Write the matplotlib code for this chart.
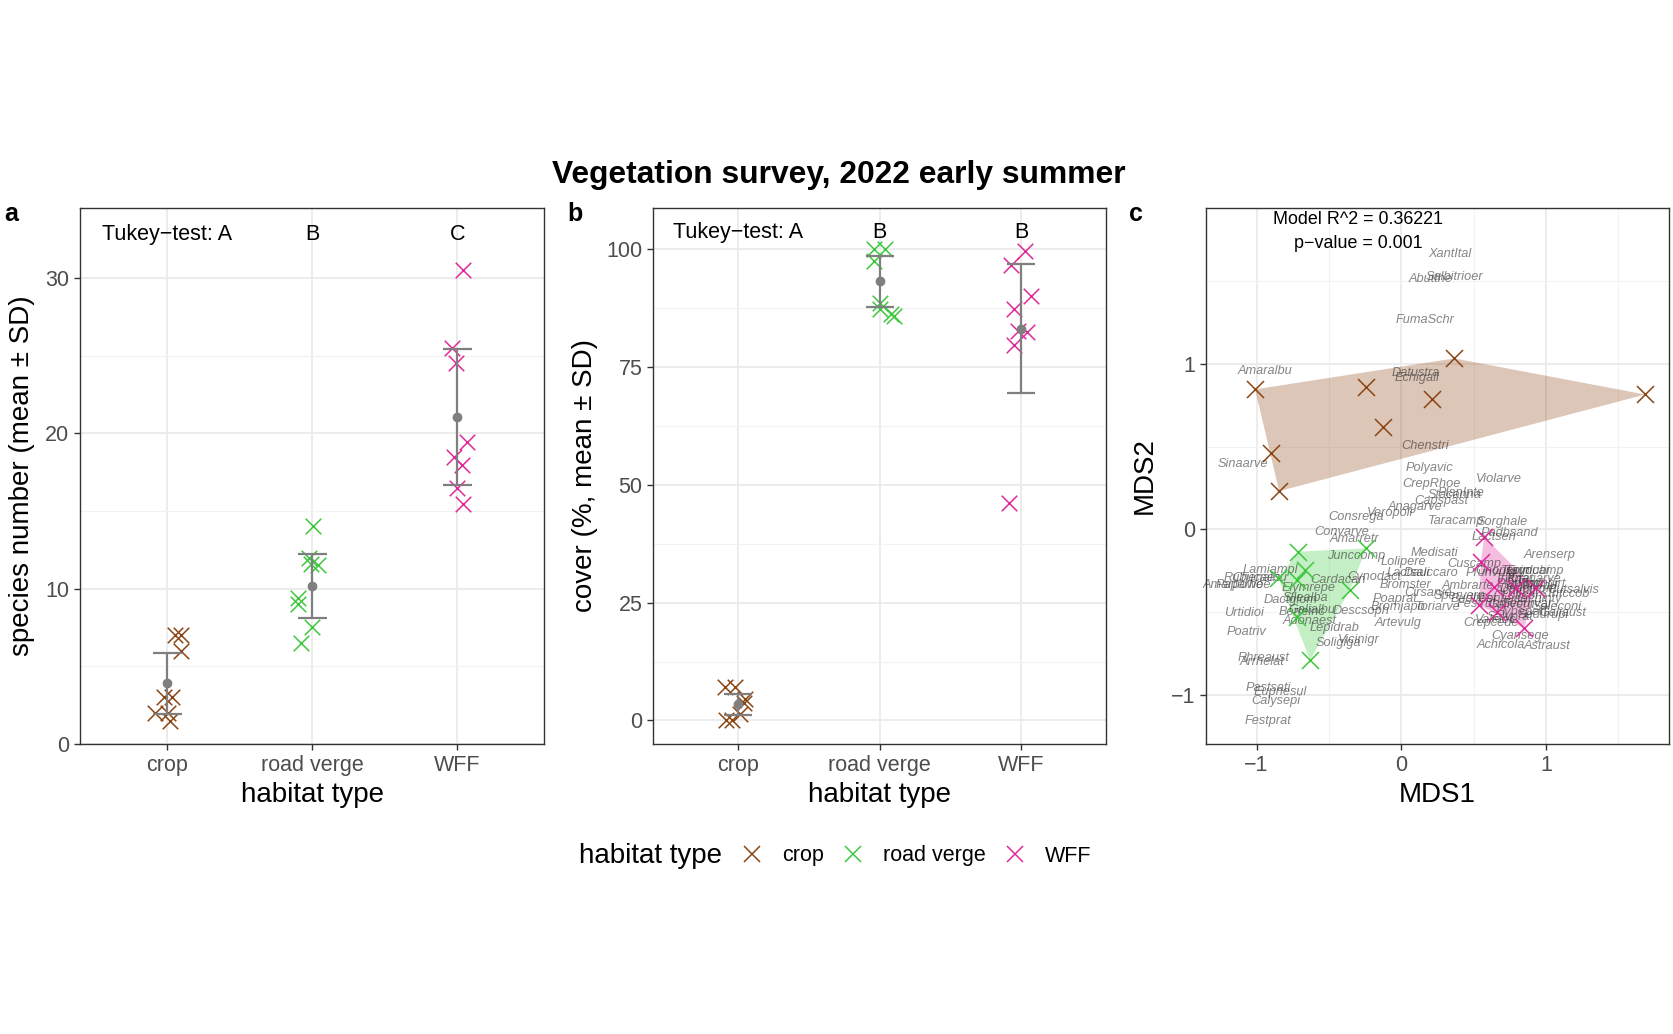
import numpy as np
import matplotlib
matplotlib.use("Agg")
import matplotlib.pyplot as plt
from matplotlib.lines import Line2D

plt.rcParams['font.family'] = ['Liberation Sans', 'DejaVu Sans']

habitats = ["crop", "road verge", "WFF"]
colours = ["#8B4513", "#3CC83C", "#E0289A"]
tukey_a = ["Tukey\u2212test: A", "B", "C"]
tukey_b = ["Tukey\u2212test: A", "B", "B"]

# panel a: species number per plot
species_n = [
    [7, 7, 6, 3, 3, 2, 2, 1.5],
    [14.0, 12.0, 11.5, 11.6, 9.4, 9.0, 7.5, 6.5],
    [30.5, 25.5, 24.5, 19.45, 18.5, 17.96, 16.46, 15.47],
]
jit_a = [
    [0.057, 0.096, 0.096, -0.023, 0.034, -0.08, 0.005, 0.023],
    [0.007, -0.02, 0.041, -0.01, -0.096, -0.1, -0.005, -0.08],
    [0.041, -0.039, -0.009, 0.069, -0.021, 0.034, -0.005, 0.041],
]
mean_a = [3.91, 10.18, 21.07]
sd_a = [1.96, 2.08, 4.37]

# panel b: vegetation cover
cover = [
    [7.0, 7.0, 4.5, 3.8, 0.2, 0.2, 1.3],
    [100.0, 100.2, 97.6, 88.6, 87.3, 86.2, 85.8],
    [99.6, 96.6, 90.1, 87.3, 82.6, 82.4, 79.8, 46.2],
]
jit_b = [
    [-0.096, -0.025, 0.05, 0.04, -0.088, -0.045, 0.013],
    [-0.043, 0.038, -0.043, 0.003, 0.003, 0.083, 0.1],
    [0.03, -0.071, 0.068, -0.053, -0.02, 0.038, -0.053, -0.088],
]
mean_b = [3.41, 93.2, 83.2]
sd_b = [2.3, 5.5, 13.75]

# panel c: NMDS site scores
mds1 = [
    [1.686, 0.367, -1.01, -0.245, 0.211, -0.126, -0.902, -0.844],
    [-0.711, -0.241, -0.665, -0.723, -0.849, -0.356, -0.723, -0.631],
    [0.573, 0.551, 0.642, 0.791, 0.929, 0.539, 0.659, 0.849],
]
mds2 = [
    [0.815, 1.033, 0.846, 0.858, 0.787, 0.62, 0.463, 0.231],
    [-0.135, -0.115, -0.246, -0.306, -0.296, -0.367, -0.528, -0.79],
    [-0.045, -0.196, -0.347, -0.357, -0.357, -0.457, -0.498, -0.598],
]

# species scores
sp_names = ["XantItal", "Abutthe", "Salbitrioer", "FumaSchr", "Amaralbu", "Datustra",
            "Echigall", "Chenstri", "Sinaarve", "Polyavic", "CrepRhoe", "Violarve",
            "PlanInte", "Stacanna", "Capspast", "Anagarve", "Veropoli", "Consrega",
            "Taracamp", "Sorghale", "Convarve", "Amarretr", "Lactseri", "Padbsand",
            "Junccomp", "Medisati", "Arenserp", "Lolipere", "Lactsali", "Dauccaro",
            "Cuscamp", "Cardacan", "Cynodact", "Elymrepe", "Bromster", "Ambrarte",
            "Rubucaes", "Lamiampl", "Amarpowe", "Paparhoe", "Chenalbu", "Dactglom",
            "Silealba", "Cirsarve", "Poaprat", "Bromjapo", "Toriarve", "Urtidioi",
            "Galialbu", "Berteinc", "Descsoph", "Adonaest", "Lepidrab", "Artevulg",
            "Poatriv", "Soligiga", "Vicinigr", "Rhreaust", "Arrhelat", "Pastsati",
            "Euphesul", "Calysepi", "Festprat", "Crepcede", "Valeloc", "Cyansege",
            "Achicola", "Astraust", "Cutsalvis", "Trifccob", "Seleconi", "Galiaust",
            "Sedurupi", "Prunvulg", "Spervern", "Budlfest", "Festrubr", "Trifprat",
            "Plantlan", "Medilupu", "Achimill", "Loticorn", "Daucglom", "Knauarve",
            "Centjace", "Galiveru", "Hypeperf", "Securvar", "Salvprat", "Eryncamp",
            "Tragdubi", "Ononspin", "Cichinty", "Rudbhirt"]
sp_x = [0.333, 0.206, 0.37, 0.165, -0.941, 0.103,
        0.11, 0.165, -1.097, 0.195, 0.206, 0.672,
        0.413, 0.367, 0.275, 0.092, -0.08, -0.31,
        0.379, 0.7, -0.413, -0.321, 0.642, 0.746,
        -0.31, 0.229, 1.028, 0.018, 0.046, 0.206,
        0.505, -0.436, -0.184, -0.642, 0.03, 0.459,
        -1.032, -0.906, -1.159, -1.09, -0.98, -0.768,
        -0.665, 0.184, -0.046, -0.023, 0.252, -1.09,
        -0.619, -0.688, -0.275, -0.631, -0.459, -0.023,
        -1.067, -0.436, -0.294, -0.952, -0.964, -0.922,
        -0.837, -0.867, -0.922, 0.619, 0.65, 0.819,
        0.688, 1.009, 1.19, 1.15, 1.078, 1.12,
        0.98, 0.62, 0.4, 0.5, 0.55, 0.78,
        0.82, 0.9, 0.8, 0.85, 0.88, 0.92,
        0.7, 0.76, 0.83, 0.87, 0.75, 0.93,
        0.86, 0.7, 0.95, 0.97]
sp_y = [1.662, 1.513, 1.527, 1.265, 0.957, 0.947,
        0.912, 0.504, 0.393, 0.369, 0.272, 0.304,
        0.218, 0.207, 0.171, 0.137, 0.1, 0.073,
        0.052, 0.046, -0.014, -0.058, -0.044, -0.02,
        -0.159, -0.145, -0.155, -0.195, -0.266, -0.266,
        -0.209, -0.306, -0.29, -0.356, -0.336, -0.342,
        -0.296, -0.246, -0.336, -0.336, -0.296, -0.427,
        -0.417, -0.387, -0.423, -0.467, -0.467, -0.508,
        -0.487, -0.497, -0.491, -0.552, -0.598, -0.568,
        -0.618, -0.685, -0.669, -0.779, -0.804, -0.961,
        -0.981, -1.035, -1.156, -0.568, -0.545, -0.642,
        -0.699, -0.703, -0.367, -0.392, -0.467, -0.505,
        -0.52, -0.266, -0.4, -0.42, -0.45, -0.3,
        -0.33, -0.34, -0.37, -0.4, -0.36, -0.3,
        -0.42, -0.46, -0.5, -0.45, -0.53, -0.25,
        -0.25, -0.25, -0.42, -0.33]


def hull(px, py):
    pts = sorted(set(zip(px, py)))

    def cross(o, a, b):
        return (a[0] - o[0]) * (b[1] - o[1]) - (a[1] - o[1]) * (b[0] - o[0])

    lower, upper = [], []
    for p in pts:
        while len(lower) >= 2 and cross(lower[-2], lower[-1], p) <= 0:
            lower.pop()
        lower.append(p)
    for p in reversed(pts):
        while len(upper) >= 2 and cross(upper[-2], upper[-1], p) <= 0:
            upper.pop()
        upper.append(p)
    h = lower[:-1] + upper[:-1]
    return [p[0] for p in h], [p[1] for p in h]


def style(ax):
    ax.set_facecolor("white")
    for s in ax.spines.values():
        s.set_color("#333333")
        s.set_linewidth(1.0)
    ax.grid(which="major", color="#EBEBEB", lw=1.3, zorder=0)
    ax.grid(which="minor", color="#F2F2F2", lw=0.8, zorder=0)
    ax.set_axisbelow(True)
    ax.tick_params(which="major", length=4, width=1, color="#333333",
                   labelcolor="#4D4D4D", labelsize=15.5, pad=4)
    ax.tick_params(which="minor", length=0)


gray = "#7F7F7F"
fig = plt.figure(figsize=(16.74, 10.34), dpi=100)
W, H = 1674, 1034
bot = 1 - 744 / H
hgt = 536 / H
ax_a = fig.add_axes([80 / W, bot, 464.5 / W, hgt])
ax_b = fig.add_axes([653.4 / W, bot, 452.6 / W, hgt])
ax_c = fig.add_axes([1206.4 / W, bot, 462.3 / W, hgt])


def strip_panel(ax, vals, jit, means, sds, tukey, ty, ylim, yticks, yminor, ylabel, lx):
    style(ax)
    for i in range(3):
        xs = [i + j for j in jit[i]]
        ax.scatter(xs, vals[i], marker="x", s=125, color=colours[i], linewidths=1.1, zorder=3)
        ax.vlines(i, means[i] - sds[i], means[i] + sds[i], color=gray, lw=1.6, zorder=4)
        ax.hlines([means[i] - sds[i], means[i] + sds[i]], i - 0.1, i + 0.1, color=gray, lw=1.6, zorder=4)
        ax.plot(i, means[i], "o", color=gray, ms=6, zorder=5)
        ax.text(i, ty, tukey[i], ha="center", va="center", fontsize=15.5, color="black")
    ax.set_xlim(-0.6, 2.6)
    ax.set_ylim(*ylim)
    ax.set_xticks(range(3))
    ax.set_xticklabels(habitats)
    ax.set_yticks(yticks)
    ax.set_yticks(yminor, minor=True)
    ax.set_xlabel("habitat type", fontsize=20)
    ax.set_ylabel(ylabel, fontsize=20)
    ax.xaxis.label.set_va("center")
    ax.yaxis.label.set_va("center")
    ax.xaxis.set_label_coords(0.5, -0.095)
    ax.yaxis.set_label_coords(lx, 0.5)


strip_panel(ax_a, species_n, jit_a, mean_a, sd_a, tukey_a, 32.8, (0, 34.5),
            [0, 10, 20, 30], [5, 15, 25], "species number (mean \u00b1 SD)", -0.124)
strip_panel(ax_b, cover, jit_b, mean_b, sd_b, tukey_b, 103.6, (-5, 108.8),
            [0, 25, 50, 75, 100], [12.5, 37.5, 62.5, 87.5], "cover (%, mean \u00b1 SD)", -0.151)

# panel c
style(ax_c)
for i in range(3):
    hx, hy = hull(mds1[i], mds2[i])
    ax_c.fill(hx, hy, color=colours[i], alpha=0.3, lw=0, zorder=2)
for nm, x, y in zip(sp_names, sp_x, sp_y):
    ax_c.text(x, y, nm, fontsize=9.2, style="italic", color="#333333", alpha=0.6,
              ha="center", va="center", zorder=3)
for i in range(3):
    ax_c.scatter(mds1[i], mds2[i], marker="x", s=150, color=colours[i], linewidths=1.1, zorder=4)
ax_c.text(-0.30, 1.875, "Model R^2 = 0.36221", ha="center", va="center", fontsize=12.9)
ax_c.text(-0.30, 1.73, "p\u2212value = 0.001", ha="center", va="center", fontsize=12.9)
ax_c.set_xlim(-1.347, 1.849)
ax_c.set_ylim(-1.297, 1.942)
ax_c.set_xticks([-1, 0, 1])
ax_c.set_xticks([-0.5, 0.5, 1.5], minor=True)
ax_c.set_yticks([-1, 0, 1])
ax_c.set_yticks([-0.5, 0.5, 1.5], minor=True)
ax_c.set_xticklabels(["\u22121", "0", "1"])
ax_c.set_yticklabels(["\u22121", "0", "1"])
ax_c.set_xlabel("MDS1", fontsize=20)
ax_c.set_ylabel("MDS2", fontsize=20)
ax_c.xaxis.label.set_va("center")
ax_c.yaxis.label.set_va("center")
ax_c.xaxis.set_label_coords(0.5, -0.095)
ax_c.yaxis.set_label_coords(-0.134, 0.5)

# title, panel letters
fig.text(839 / W, 1 - 175 / H, "Vegetation survey, 2022 early summer", ha="center",
         va="center", fontsize=22.9, fontweight="bold")
for lab, x in zip(["a", "b", "c"], [4, 567, 1129]):
    fig.text(x / W, 1 - 214 / H, lab, ha="left", va="center", fontsize=18, fontweight="bold")

# legend
handles = [Line2D([], [], marker="x", ls="none", color=c, ms=11, mew=1.1) for c in colours]
fig.text(721.7 / W, 1 - 856 / H, "habitat type", ha="right", va="center", fontsize=20)
fig.legend(handles, habitats, loc="center left", bbox_to_anchor=(722 / W, 1 - 856 / H),
           ncol=3, frameon=False, fontsize=15.5, handlelength=1.0, handletextpad=0.9,
           columnspacing=0.85, borderpad=0.4)

fig.savefig("out.png", dpi=100, facecolor="white")
